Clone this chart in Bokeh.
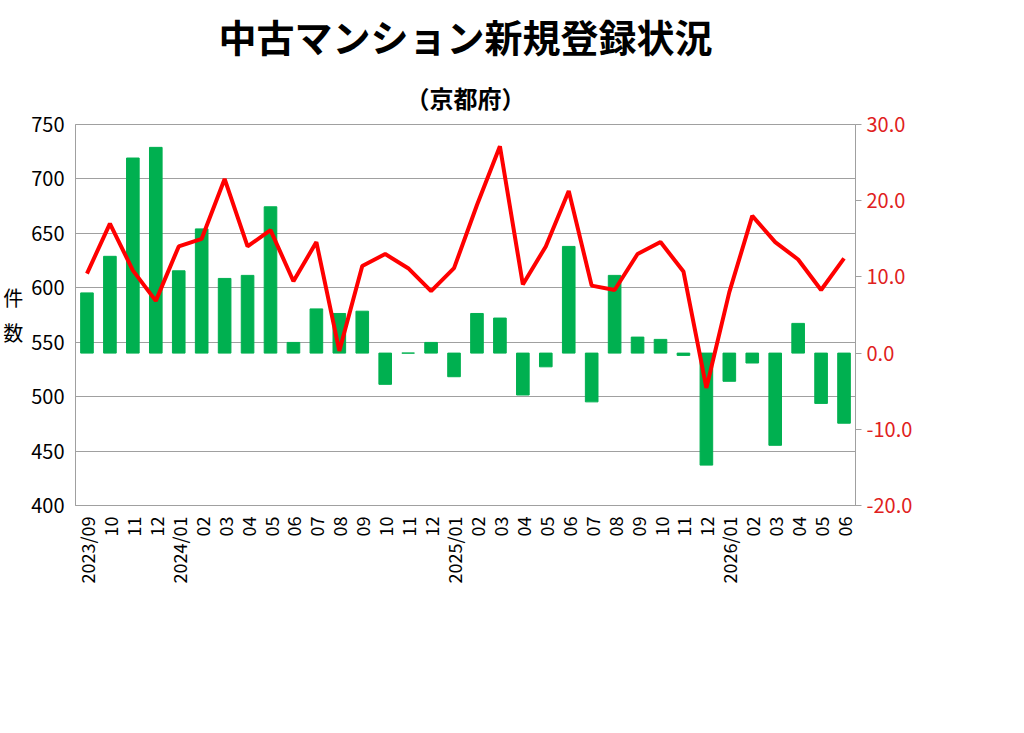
from bokeh.plotting import figure
from bokeh.models import Range1d, LinearAxis, Legend, LegendItem, Title, FixedTicker, PrintfTickFormatter
from bokeh.embed import file_html
from bokeh.resources import INLINE
import math

labels = ["2023/09","10","11","12","2024/01","02","03","04","05","06","07","08","09","10","11","12",
          "2025/01","02","03","04","05","06","07","08","09","10","11","12","2026/01","02","03","04","05","06"]
counts = [613,659,616,588,638,645,700,638,653,606,642,542,620,631,618,597,
          618,676,730,603,638,689,602,598,631,642,615,508,596,666,642,626,598,627]
yoy = [7.9,12.7,25.6,27.0,10.8,16.3,9.8,10.2,19.2,1.4,5.8,5.2,5.5,-4.1,0.0,1.4,
       -3.1,5.2,4.6,-5.5,-1.8,14.0,-6.4,10.2,2.1,1.8,-0.3,-14.7,-3.7,-1.3,-12.1,3.9,-6.6,-9.2]

FONT = "Noto Sans CJK JP"
xs = list(range(len(labels)))

p = figure(frame_width=780, frame_height=381, output_backend="svg", toolbar_location=None,
           x_range=Range1d(-0.5, len(labels)-0.5), y_range=Range1d(400, 750),
           min_border_left=60, min_border_right=10, min_border_bottom=10, min_border_top=10)
p.extra_y_ranges = {"r": Range1d(-20, 30)}

p.add_layout(Title(text="（京都府）", align="center", text_font=FONT, text_font_size="24px",
                   text_font_style="bold", text_color="black", standoff=20), "above")
p.add_layout(Title(text="中古マンション新規登録状況", align="center", text_font=FONT, text_font_size="38px",
                   text_font_style="bold", text_color="black"), "above")

bars = p.vbar(x=xs, top=yoy, bottom=0, width=0.55, color="#00b050", y_range_name="r")
line = p.line(xs, counts, line_color="#ff0000", line_width=4)

p.xaxis.ticker = FixedTicker(ticks=xs)
p.xaxis.major_label_overrides = {i: l for i, l in enumerate(labels)}
p.xaxis.major_label_orientation = math.pi/2
p.xaxis.major_label_text_font = FONT
p.xaxis.major_label_text_font_size = "18px"
p.xaxis.major_label_text_color = "black"
p.xaxis.axis_line_color = "#a0a0a0"
p.xaxis.major_tick_line_color = None
p.xaxis.minor_tick_line_color = None

p.yaxis.ticker = FixedTicker(ticks=list(range(400, 751, 50)))
p.yaxis.axis_label = "件\n数"
p.yaxis.axis_label_orientation = "horizontal"
p.yaxis.axis_label_text_font = FONT
p.yaxis.axis_label_text_font_size = "20px"
p.yaxis.axis_label_text_font_style = "normal"
p.yaxis.axis_label_text_color = "black"
p.yaxis.major_label_text_font = FONT
p.yaxis.major_label_text_font_size = "20px"
p.yaxis.major_label_text_color = "black"
p.yaxis.axis_line_color = "#a0a0a0"
p.yaxis.major_tick_line_color = None
p.yaxis.minor_tick_line_color = None

ra = LinearAxis(y_range_name="r", ticker=FixedTicker(ticks=list(range(-20, 31, 10))))
ra.formatter = PrintfTickFormatter(format="%.1f")
ra.major_label_text_font = FONT
ra.major_label_text_font_size = "20px"
ra.major_label_text_color = "#e02020"
ra.axis_line_color = "#a0a0a0"
ra.major_tick_line_color = "#a0a0a0"
ra.major_tick_out = 6
ra.major_tick_in = 0
ra.minor_tick_line_color = None
p.add_layout(ra, "right")

p.xgrid.grid_line_color = None
p.ygrid.grid_line_color = "#a0a0a0"
p.ygrid.ticker = FixedTicker(ticks=list(range(400, 751, 50)))
p.outline_line_color = "#a0a0a0"

legend = Legend(items=[LegendItem(label="前年比（%）", renderers=[bars]),
                       LegendItem(label="新規登録件数", renderers=[line])],
                orientation="horizontal", location="center", label_text_font=FONT,
                label_text_font_size="20px", glyph_width=55, glyph_height=20, spacing=40,
                border_line_color=None, margin=15)
p.add_layout(legend, "below")

open("out.html", "w").write(file_html(p, INLINE))
